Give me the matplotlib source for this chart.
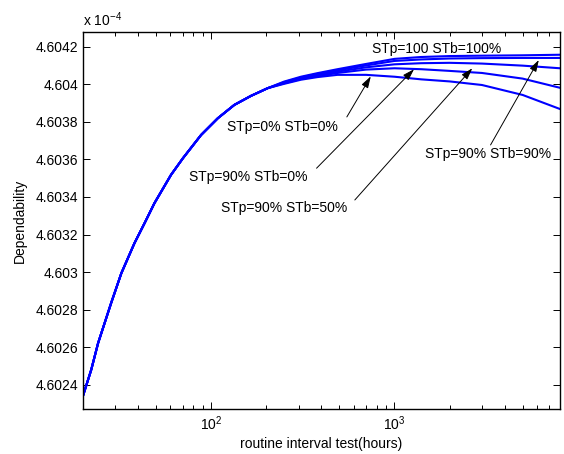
import numpy as np
import matplotlib
matplotlib.use("Agg")
import matplotlib.pyplot as plt
from matplotlib.ticker import FuncFormatter, LogLocator, LogFormatterMathtext

plt.rcParams['font.family'] = ['Liberation Sans', 'DejaVu Sans']
plt.rcParams['mathtext.default'] = 'regular'

# routine test interval (hours)
hours = [20, 22.2, 24.2, 28.5, 32.4, 38.2, 43.4, 49.1, 60.5, 70.2, 88.2, 108.8, 133.9,
         165, 203.5, 250, 309, 380, 489, 700, 1000, 1400, 2000, 3000, 5000, 8000]
# all strategies share the same dependability (x 1e-4) below ~200 h
common = [4.602340, 4.602480, 4.602622, 4.602835, 4.602994, 4.603154, 4.603261, 4.603367,
          4.603518, 4.603606, 4.603730, 4.603819, 4.603890, 4.603938, 4.603979]
dep_100_100 = common + [4.604014, 4.604040, 4.604059, 4.604080, 4.604108, 4.604135,
                        4.604145, 4.604150, 4.604152, 4.604154, 4.604157]
dep_90_90 = common + [4.604011, 4.604036, 4.604055, 4.604074, 4.604100, 4.604124,
                      4.604132, 4.604137, 4.604139, 4.604140, 4.604140]
dep_90_50 = common + [4.604008, 4.604032, 4.604049, 4.604067, 4.604090, 4.604106,
                      4.604112, 4.604114, 4.604110, 4.604099, 4.604085]
dep_90_0 = common + [4.604005, 4.604028, 4.604043, 4.604060, 4.604078, 4.604085,
                     4.604080, 4.604071, 4.604060, 4.604030, 4.603981]
dep_0_0 = common + [4.604002, 4.604024, 4.604038, 4.604050, 4.604050, 4.604040,
                    4.604026, 4.604015, 4.603996, 4.603943, 4.603868]

fig = plt.figure(figsize=(5.64, 4.54), dpi=100)
ax = fig.add_axes([0.147, 0.0985, 0.846, 0.831])

for d in [dep_100_100, dep_90_90, dep_90_50, dep_90_0, dep_0_0]:
    ax.plot(hours, d, color='#0000ff', lw=1.5)

ax.set_xscale('log')
ax.set_xlim(20, 8000)
ax.set_ylim(4.60227, 4.604278)
ax.set_yticks(np.arange(4.6024, 4.60425, 0.0002))
ax.yaxis.set_major_formatter(FuncFormatter(lambda v, p: '%g' % round(v, 4)))
ax.xaxis.set_major_locator(LogLocator(base=10))
ax.xaxis.set_major_formatter(LogFormatterMathtext())

ax.tick_params(which='both', direction='in', top=True, right=True, labelsize=10, width=0.7)
ax.tick_params(which='major', length=5)
ax.tick_params(which='minor', length=3)
for s in ax.spines.values():
    s.set_linewidth(1.0)

ax.set_xlabel('routine interval test(hours)', fontsize=10, labelpad=3)
ax.set_ylabel('Dependability', fontsize=10, labelpad=6)
fig.text(0.147, 0.956, 'x 10$^{-4}$', fontsize=10, va='center', ha='left')

arrow = dict(arrowstyle='-|>,head_length=0.7,head_width=0.22', color='black', lw=0.7,
             shrinkA=0, shrinkB=0)
# (label, arrow tip, arrow tail, label position)
notes = [
    ('STp=0% STb=0%', (743, 4.604042), (550, 4.603826), (245, 4.603774)),
    ('STp=90% STb=0%', (1279, 4.604080), (376, 4.603553), (159, 4.603507)),
    ('STp=90% STb=50%', (2658, 4.604085), (608, 4.603384), (250, 4.603342)),
    ('STp=90% STb=90%', (6125, 4.604129), (3343, 4.603677), (3240, 4.603629)),
]
for label, tip, tail, pos in notes:
    ax.annotate('', xy=tip, xytext=tail, arrowprops=arrow)
    ax.text(pos[0], pos[1], label, fontsize=10, ha='center', va='center')

ax.text(1689, 4.604186, 'STp=100 STb=100%', fontsize=10, ha='center', va='center')

fig.savefig('out.png', dpi=100)
